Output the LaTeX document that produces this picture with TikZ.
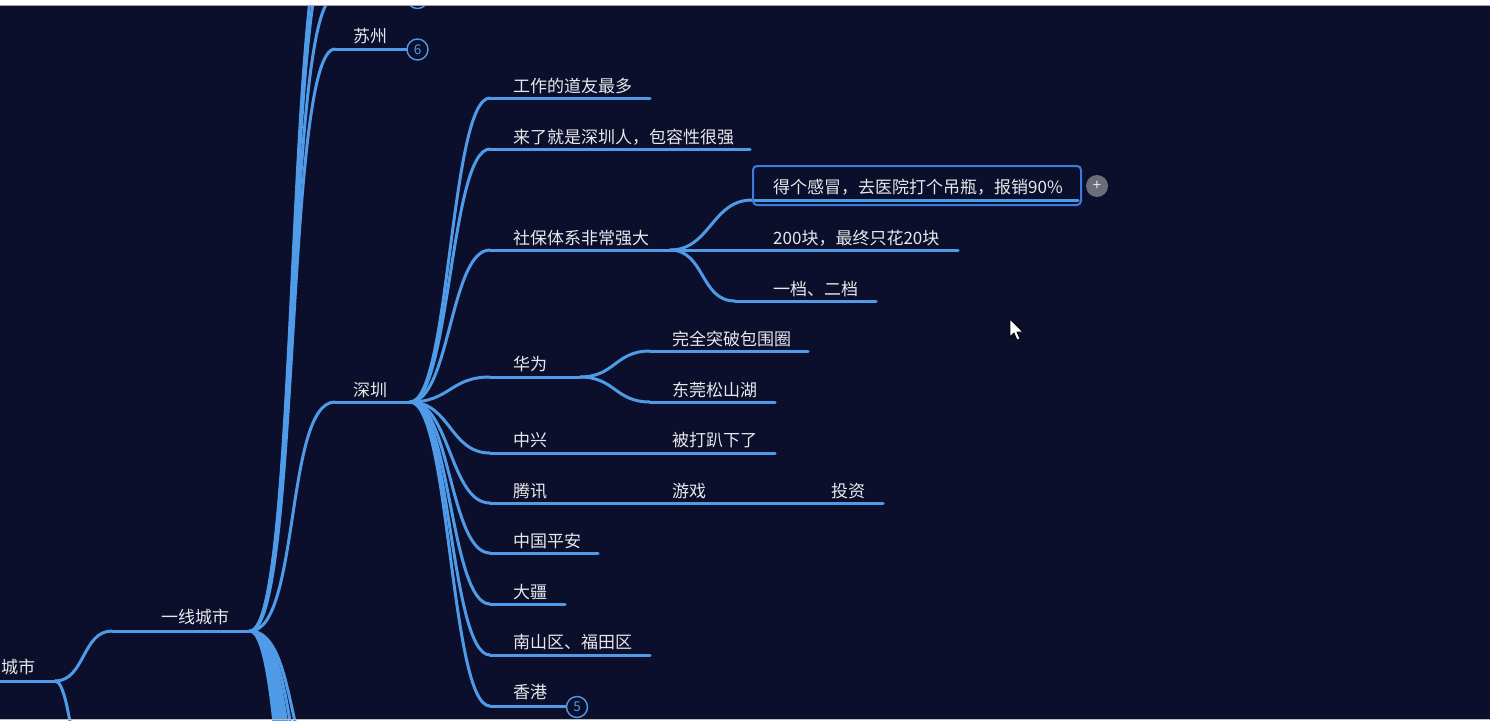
\documentclass[tikz,border=0pt]{standalone}
\usepackage{fontspec}
\newfontfamily\cjk{Noto Sans CJK SC}
\definecolor{bg}{HTML}{0B0F2B}
\definecolor{lnk}{HTML}{4F9BE8}
\definecolor{txtc}{HTML}{E8E8EC}
\definecolor{selc}{HTML}{3C7BE0}
\definecolor{plusc}{HTML}{6B6E78}
\begin{document}
\begin{tikzpicture}[x=1pt,y=-1pt,
  lbl/.style={text=txtc, font=\cjk\fontsize{17}{20}\selectfont, inner sep=0pt, anchor=west},
  link/.style={draw=lnk, line width=3pt, line cap=round},
  cnt/.style={circle, draw=lnk, line width=1.4pt, minimum size=21pt, inner sep=0pt, text=lnk, font=\cjk\fontsize{13.5}{13.5}\selectfont, fill=bg},
  selbox/.style={draw=selc, line width=2pt, rounded corners=4pt},
  plusbtn/.style={circle, fill=plusc, minimum size=22pt, inner sep=0pt, text=txtc, font=\cjk\fontsize{15}{15}\selectfont}
]
\useasboundingbox (0,0) rectangle (1490,720);
\clip (0,0) rectangle (1490,720);
\fill[bg] (0,0) rectangle (1490,720);

% ---------- anchor coordinates (underline start / end) ----------
\coordinate (csS) at (-20,681);   \coordinate (csE) at (55,681);
\coordinate (csD) at (100,820);
\coordinate (yxS) at (112,631);   \coordinate (yxE) at (250,631);
\coordinate (t1S) at (335,-3);    \coordinate (t1E) at (407,-3);
\coordinate (t2S) at (335,-60);
\coordinate (t3S) at (335,-90);
\coordinate (szS) at (335,49);    \coordinate (szE) at (407,49);
\coordinate (shS) at (335,402);   \coordinate (shE) at (410,402);
\foreach \i/\yy in {1/790,2/840,3/900,4/960,5/1030,6/1100,7/1180,8/1260,9/1350,10/1450}
  {\coordinate (d\i) at (335,\yy);}

\coordinate (gzS) at (490,98);    \coordinate (gzE) at (650,98);
\coordinate (llS) at (490,149);   \coordinate (llE) at (750,149);
\coordinate (sbS) at (490,250);   \coordinate (sbE) at (670,250);
\coordinate (gmS) at (752,200);   \coordinate (gmE) at (1078,200);
\coordinate (ebS) at (735,250);   \coordinate (ebE) at (958,250);
\coordinate (ydS) at (735,301);   \coordinate (ydE) at (876,301);
\coordinate (hwS) at (490,377);   \coordinate (hwE) at (580,377);
\coordinate (wqS) at (650,351);   \coordinate (wqE) at (808,351);
\coordinate (dgS) at (650,402);   \coordinate (dgE) at (775,402);
\coordinate (zxS) at (490,453);   \coordinate (zxE) at (560,453);
\coordinate (bdS) at (650,453);   \coordinate (bdE) at (775,453);
\coordinate (txS) at (490,503);   \coordinate (txE) at (560,503);
\coordinate (yoS) at (650,503);   \coordinate (yoE) at (720,503);
\coordinate (tzS) at (810,503);   \coordinate (tzE) at (883,503);
\coordinate (paS) at (490,553);   \coordinate (paE) at (598,553);
\coordinate (djS) at (490,604);   \coordinate (djE) at (565,604);
\coordinate (nsS) at (490,655);   \coordinate (nsE) at (650,655);
\coordinate (hkS) at (490,706);   \coordinate (hkE) at (566,706);

% ---------- underlines ----------
\foreach \n in {cs,yx,t1,sz,sh,gz,ll,sb,gm,eb,yd,hw,wq,dg,zx,bd,tx,yo,tz,pa,dj,ns,hk}
  {\draw[link] (\n S) -- (\n E);}
\foreach \i in {1,...,10}{\draw[link] (d\i) -- ++(70,0);}
\draw[link] (t2S) -- ++(70,0);
\draw[link] (t3S) -- ++(70,0);

% ---------- connectors ----------
\draw[link] (csE) .. controls +(30,0) and +(-30,0) .. (yxS);
\draw[link] (csE) .. controls +(18,0) and +(-25,0) .. (csD);
\draw[link] (csD) -- ++(60,0);
\foreach \c in {t1S,t2S,t3S,szS,shS,d1,d2,d3,d4,d5,d6,d7,d8,d9,d10}
  {\draw[link] (yxE) .. controls +(50,0) and +(-50,0) .. (\c);}
\foreach \c in {gzS,llS,sbS,hwS,zxS,txS,paS,djS,nsS,hkS}
  {\draw[link] (shE) .. controls +(40,0) and +(-40,0) .. (\c);}
\draw[link] (sbE) .. controls +(40,0) and +(-40,0) .. (gmS);
\draw[link] (sbE) -- (ebS);
\draw[link] (sbE) .. controls +(35,0) and +(-35,0) .. (ydS);
\draw[link] (hwE) .. controls +(35,0) and +(-35,0) .. (wqS);
\draw[link] (hwE) .. controls +(35,0) and +(-35,0) .. (dgS);
\draw[link] (zxE) -- (bdS);
\draw[link] (txE) -- (yoS);
\draw[link] (yoE) -- (tzS);

% ---------- count badges ----------
\node[cnt] (c6) at (417.5,49.5) {6};
\node[cnt] (c0) at (417.5,-2) {};
\node[cnt] (c5) at (577,707) {5};

% ---------- selection ----------
\draw[selbox] (753,166) rectangle (1081,205);
\node[plusbtn] (plus) at (1097,186) {+};

% ---------- labels ----------
\node[lbl] (city) at (1,667) {城市};
\node[lbl] (yx) at (161,617) {一线城市};
\node[lbl] (sz) at (353,36) {苏州};
\node[lbl] (sh) at (353,390) {深圳};
\node[lbl] (gz) at (513,86) {工作的道友最多};
\node[lbl] (ll) at (513,137) {来了就是深圳人，包容性很强};
\node[lbl] (sb) at (513,238) {社保体系非常强大};
\node[lbl] (gm) at (773,187) {得个感冒，去医院打个吊瓶，报销90\%};
\node[lbl] (eb) at (773,238) {200块，最终只花20块};
\node[lbl] (yd) at (773,289) {一档、二档};
\node[lbl] (hw) at (513,364) {华为};
\node[lbl] (wq) at (672,339) {完全突破包围圈};
\node[lbl] (dg) at (672,390) {东莞松山湖};
\node[lbl] (zx) at (513,440) {中兴};
\node[lbl] (bd) at (672,440) {被打趴下了};
\node[lbl] (tx) at (513,491) {腾讯};
\node[lbl] (yo) at (672,491) {游戏};
\node[lbl] (tz) at (831,491) {投资};
\node[lbl] (pa) at (513,541) {中国平安};
\node[lbl] (dj) at (513,592) {大疆};
\node[lbl] (ns) at (513,642) {南山区、福田区};
\node[lbl] (hk) at (513,692) {香港};

% ---------- mouse cursor ----------
\filldraw[fill=white, draw=black, line width=0.8pt, line join=round]
  (1010,319) -- (1010,337) -- (1014,333) -- (1017,340) -- (1020,339)
  -- (1017,332) -- (1023,332) -- cycle;

% ---------- window edges ----------
\fill[white] (0,0) rectangle (1490,5);
\draw[gray!70, line width=1pt] (0,5.5) -- (1490,5.5);
\draw[gray!50, line width=0.8pt] (0,719.5) -- (1490,719.5);
\end{tikzpicture}
\end{document}
